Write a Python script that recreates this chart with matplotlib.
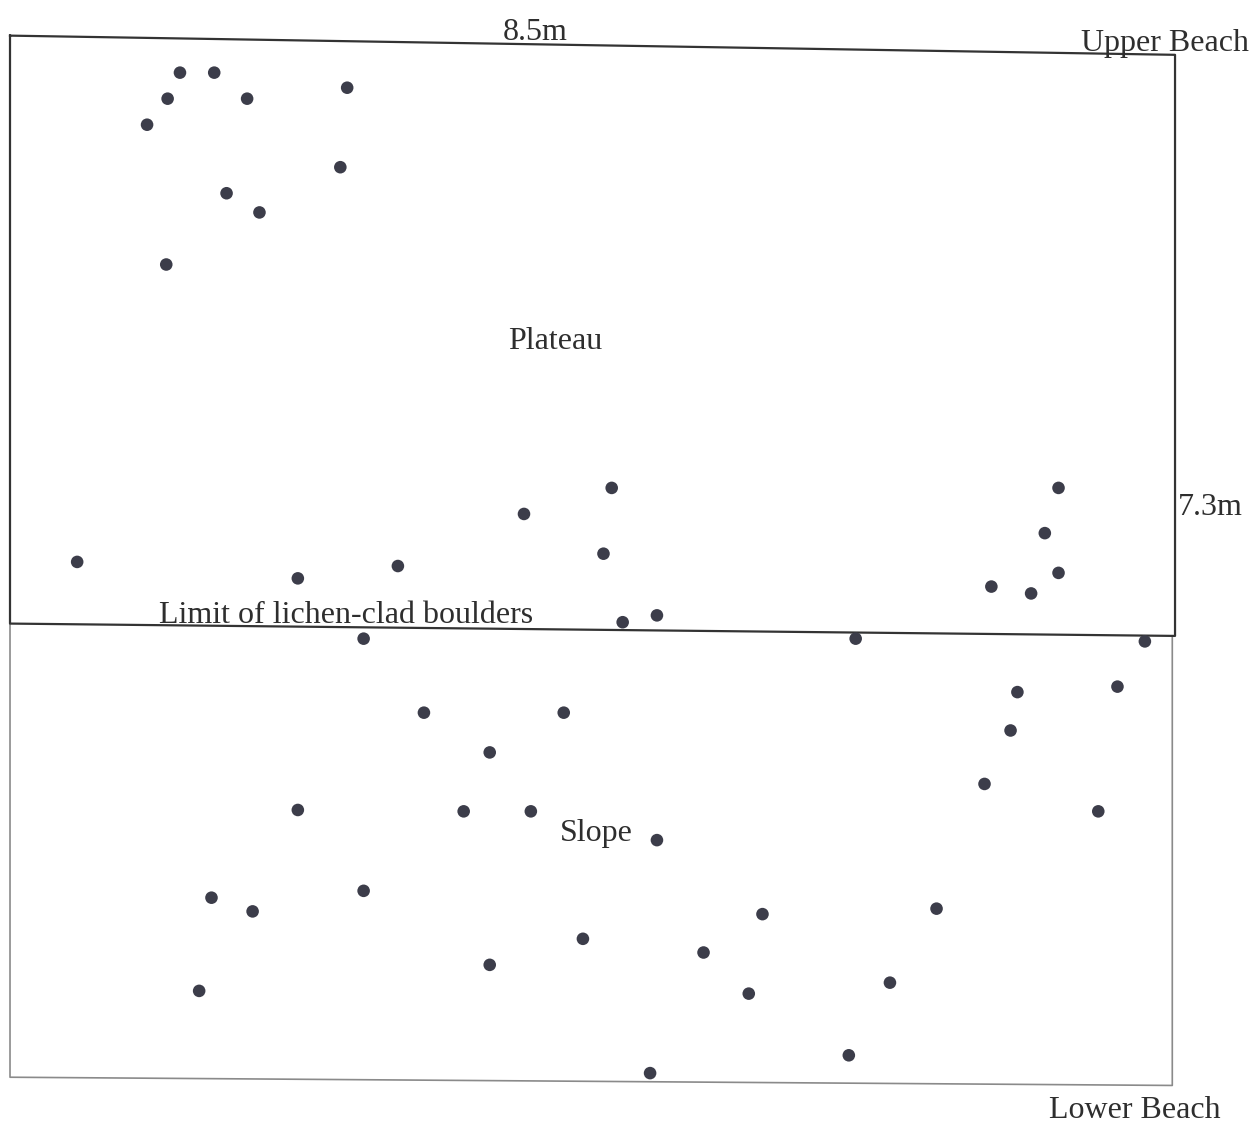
import matplotlib
matplotlib.use("Agg")
import matplotlib.pyplot as plt
import numpy as np

# Boulder positions on the survey plot, metres from the upper-left corner
# (x along the 8.5 m edge, y measured down-slope).
plateau_x = [1.24, 1.49, 1.15, 1.73, 2.46, 1.00, 2.41, 1.58, 1.82, 1.14,
             0.49, 2.10, 2.83, 3.75, 4.39, 4.33, 4.47, 4.72,
             7.65, 7.55, 7.65, 7.16, 7.45]
plateau_y = [0.26, 0.26, 0.45, 0.45, 0.37, 0.64, 0.95, 1.14, 1.28, 1.66,
             3.83, 3.95, 3.86, 3.48, 3.29, 3.77, 4.27, 4.22,
             3.29, 3.62, 3.91, 4.01, 4.06]

slope_x = [2.58, 6.17, 8.28, 7.35, 8.08, 7.30, 3.02, 4.04, 3.50, 7.11,
           2.10, 3.31, 3.80, 4.72, 7.94, 1.47, 1.77, 2.58, 5.49, 6.76,
           4.18, 3.50, 5.06, 6.42, 1.38, 5.39, 6.12, 4.67]
slope_y = [4.39, 4.39, 4.41, 4.78, 4.74, 5.06, 4.93, 4.93, 5.22, 5.45,
           5.64, 5.65, 5.65, 5.86, 5.65, 6.28, 6.38, 6.23, 6.40, 6.36,
           6.58, 6.77, 6.68, 6.90, 6.96, 6.98, 7.43, 7.56]

# Plot outline (hand-drawn, so the edges are slightly skewed)
upper_box_x = [0.0, 8.50, 8.50, 0.0, 0.0]
upper_box_y = [-0.01, 0.13, 4.37, 4.28, -0.01]
lower_box_x = [0.0, 0.0, 8.48, 8.48]
lower_box_y = [4.28, 7.59, 7.65, 4.37]

width_label = "8.5m"
height_label = "7.3m"

fig = plt.figure(figsize=(12.5, 11.23), dpi=100)
ax = fig.add_axes([0, 0, 1, 1])
ax.set_xlim(-0.073, 9.047)
ax.set_ylim(7.924, -0.270)
ax.axis("off")

ax.plot(lower_box_x, lower_box_y, color="#8a8a8a", lw=1.2, zorder=1)
ax.plot(upper_box_x, upper_box_y, color="#333333", lw=1.6, zorder=2)

dot_color = "#3c3d4a"
ax.scatter(plateau_x, plateau_y, s=82, color=dot_color, edgecolors="none", zorder=3)
ax.scatter(slope_x, slope_y, s=82, color=dot_color, edgecolors="none", zorder=3)

txt = dict(family="Liberation Serif", fontsize=23, color="#2e2e2e",
           ha="center", va="center", zorder=4)
ax.text(3.83, -0.035, width_label, **txt)
ax.text(8.43, 0.05, "Upper Beach", **txt)
ax.text(3.98, 2.22, "Plateau", **txt)
ax.text(8.76, 3.43, height_label, **txt)
ax.text(2.45, 4.22, "Limit of lichen-clad boulders", **txt)
ax.text(4.28, 5.81, "Slope", **txt)
ax.text(8.21, 7.83, "Lower Beach", **txt)

fig.savefig("out.png", dpi=100, facecolor="white")
